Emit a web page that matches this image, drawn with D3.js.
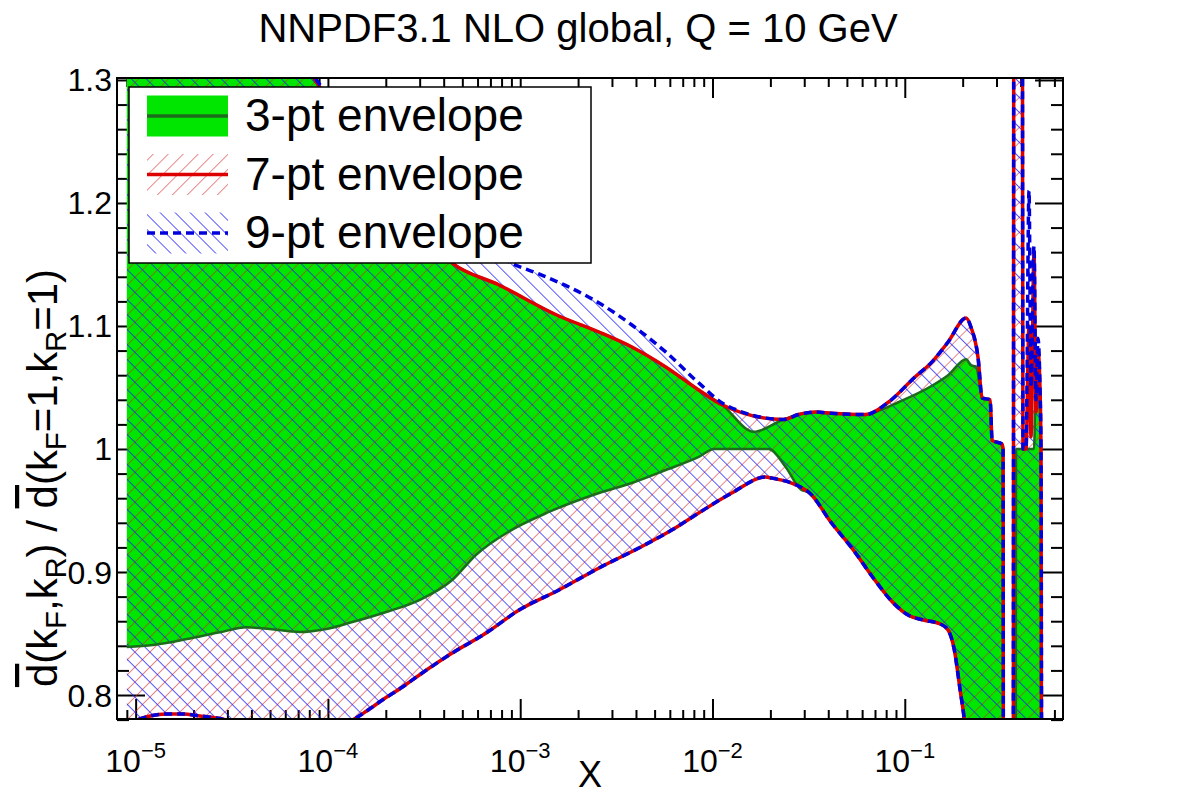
<!DOCTYPE html>
<html>
<head>
<meta charset="utf-8">
<script src="https://cdn.jsdelivr.net/npm/d3@7"></script>
<style>
  body { margin: 0; background: #fff; }
  svg text { font-family: "Liberation Sans", Arial, Helvetica, sans-serif; fill: #000; }
</style>
</head>
<body>
<svg id="chart"></svg>
<script>
// envelopes: [x, ratio]
// values outside 0.78..1.30 are only there so the bands run off the frame
const env3Upper = [
  [9.0e-6, 1.42], [1.5e-5, 1.40], [3.0e-5, 1.365], [5.5e-5, 1.33], [8.5e-5, 1.30],
  [1.29e-4, 1.2528], [2.09e-4, 1.2089], [2.99e-4, 1.178], [4.43e-4, 1.1512], [7.77e-4, 1.1333],
  [1.59e-3, 1.1081], [2.57e-3, 1.0951], [3.81e-3, 1.0829], [5.71e-3, 1.0667], [8.48e-3, 1.048],
  [1.12e-2, 1.036], [1.64e-2, 1.014], [2.34e-2, 1.024], [2.80e-2, 1.028], [3.43e-2, 1.030],
  [4.16e-2, 1.029], [6.24e-2, 1.028], [7.29e-2, 1.031], [9.25e-2, 1.038], [0.137, 1.051],
  [0.168, 1.060], [0.2085, 1.073], [0.221, 1.068], [0.235, 1.067], [0.2525, 1.041],
  [0.278, 1.040], [0.2845, 1.007], [0.3206, 1.004], [0.3245, 1.0], [0.326, 0.5],
  [0.377, 0.5], [0.3789, 1.0], [0.47, 1.0], [0.481, 1.067], [0.493, 1.06],
  [0.5109, 1.0], [0.513, 0.5]
];
const env3Lower = [
  [9.0e-6, 0.839], [1.23e-5, 0.8407], [1.85e-5, 0.8455], [2.74e-5, 0.851], [3.78e-5, 0.855],
  [4.98e-5, 0.8537], [7.12e-5, 0.8512], [9.83e-5, 0.8537], [1.34e-4, 0.8593], [2.01e-4, 0.8675],
  [2.99e-4, 0.8772], [4.43e-4, 0.8935], [5.9e-4, 0.9140], [8.76e-4, 0.9330], [1.41e-3, 0.9488],
  [2.57e-3, 0.9642], [3.81e-3, 0.9724], [5.71e-3, 0.9829], [8.48e-3, 0.9935], [1.02e-2, 1.0],
  [1.96e-2, 1.0], [2.40e-2, 0.9854], [2.90e-2, 0.9667], [3.16e-2, 0.965], [4.16e-2, 0.9398],
  [5.40e-2, 0.9179], [6.86e-2, 0.8951], [8.72e-2, 0.8748], [0.104, 0.865], [0.125, 0.861],
  [0.153, 0.8577], [0.168, 0.8528], [0.181, 0.8366], [0.194, 0.8041], [0.204, 0.78],
  [0.22, 0.72], [0.26, 0.65], [0.55, 0.65]
];
const env7Upper = [
  [9.0e-6, 1.45], [2.0e-5, 1.42], [4.0e-5, 1.37], [6.0e-5, 1.335], [8.6e-5, 1.30],
  [1.29e-4, 1.2528], [2.09e-4, 1.2089], [2.99e-4, 1.178], [4.43e-4, 1.1512], [7.77e-4, 1.1333],
  [1.59e-3, 1.1081], [2.57e-3, 1.0951], [3.81e-3, 1.0829], [5.71e-3, 1.0667], [8.48e-3, 1.048],
  [1.12e-2, 1.036], [2.34e-2, 1.024], [2.80e-2, 1.028], [3.43e-2, 1.030], [4.16e-2, 1.029],
  [6.24e-2, 1.028], [8.21e-2, 1.038], [0.113, 1.0585], [0.137, 1.070], [0.168, 1.087],
  [0.2085, 1.1065], [0.221, 1.099], [0.2406, 1.074], [0.2525, 1.0415], [0.278, 1.040],
  [0.2845, 1.007], [0.3206, 1.004], [0.3245, 1.0], [0.3265, 0.5], [0.3656, 0.5],
  [0.370, 1.6], [0.407, 1.6], [0.412, 1.0], [0.427, 1.0], [0.4426, 1.10],
  [0.4533, 1.01], [0.4699, 1.16], [0.4813, 1.03], [0.493, 1.08], [0.5048, 1.05],
  [0.5109, 1.0], [0.517, 0.5]
];
const env7Lower = [
  [9.0e-6, 0.776], [1.05e-5, 0.7805], [1.19e-5, 0.783], [1.45e-5, 0.7846], [1.76e-5, 0.7846],
  [2.16e-5, 0.783], [2.64e-5, 0.7813], [2.98e-5, 0.7797], [4.4e-5, 0.774], [7.1e-5, 0.771],
  [1.02e-4, 0.774], [1.34e-4, 0.7797], [1.59e-4, 0.787], [1.92e-4, 0.7959], [2.44e-4, 0.8065],
  [2.99e-4, 0.8163], [4.43e-4, 0.8341], [6.65e-4, 0.8504], [9.87e-4, 0.8691], [1.59e-3, 0.8854],
  [2.57e-3, 0.9033], [4.14e-3, 0.9195], [6.14e-3, 0.9341], [8.48e-3, 0.948], [1.26e-2, 0.9642],
  [1.89e-2, 0.9772], [2.03e-2, 0.9764], [3.16e-2, 0.965], [4.16e-2, 0.9398], [5.40e-2, 0.9179],
  [6.86e-2, 0.8951], [8.72e-2, 0.8748], [0.104, 0.865], [0.125, 0.861], [0.153, 0.8577],
  [0.168, 0.8528], [0.181, 0.8366], [0.194, 0.8041], [0.204, 0.78], [0.22, 0.72],
  [0.26, 0.65], [0.55, 0.65]
];
const env9Upper = [
  [9.0e-6, 1.50], [3.0e-5, 1.42], [6.0e-5, 1.345], [8.73e-5, 1.30], [1.46e-4, 1.261],
  [2.35e-4, 1.2268], [3.79e-4, 1.1967], [5.77e-4, 1.1724], [8.76e-4, 1.152], [1.25e-3, 1.1423],
  [1.79e-3, 1.1317], [2.57e-3, 1.1187], [3.81e-3, 1.1008], [5.71e-3, 1.0789], [8.48e-3, 1.0537],
  [1.17e-2, 1.0358], [2.34e-2, 1.024], [2.80e-2, 1.028], [3.43e-2, 1.030], [4.16e-2, 1.029],
  [6.24e-2, 1.028], [8.21e-2, 1.038], [0.113, 1.0585], [0.137, 1.070], [0.168, 1.087],
  [0.2085, 1.1065], [0.221, 1.099], [0.2406, 1.074], [0.2525, 1.0415], [0.278, 1.040],
  [0.2845, 1.007], [0.3206, 1.004], [0.3245, 1.0], [0.3265, 0.5], [0.3656, 0.5],
  [0.370, 1.6], [0.407, 1.6], [0.412, 1.0], [0.427, 1.0], [0.4426, 1.21],
  [0.4533, 1.05], [0.4699, 1.165], [0.4813, 1.04], [0.493, 1.09], [0.5048, 1.05],
  [0.5109, 1.0], [0.517, 0.5]
];
// the 9-pt lower edge sits on top of the 7-pt one everywhere
const env9Lower = env7Lower;

const xMajorTicks = [1e-5, 1e-4, 1e-3, 1e-2, 1e-1];
const xTickExponents = ["\u22125", "\u22124", "\u22123", "\u22122", "\u22121"];
const yMajorTicks = [0.8, 0.9, 1.0, 1.1, 1.2, 1.3];
const yTickLabels = ["0.8", "0.9", "1", "1.1", "1.2", "1.3"];
const legendLabels = ["3-pt envelope", "7-pt envelope", "9-pt envelope"];

const W = 1182, H = 800;
const plot = {left: 117, right: 1063, top: 78, bottom: 719};

const svg = d3.select("#chart").attr("width", W).attr("height", H);

const x = d3.scaleLog().domain([8e-6, 0.665]).range([plot.left, plot.right]);
const y = d3.scaleLinear().domain([0.7805, 1.3016]).range([plot.bottom, plot.top]);

const defs = svg.append("defs");
defs.append("clipPath").attr("id", "plotClip")
  .append("rect")
  .attr("x", plot.left).attr("y", plot.top)
  .attr("width", plot.right - plot.left).attr("height", plot.bottom - plot.top);

function makeHatch(id, angle, color, opacity, width) {
  const p = defs.append("pattern").attr("id", id)
    .attr("patternUnits", "userSpaceOnUse")
    .attr("width", 10.6).attr("height", 10.6)
    .attr("patternTransform", `rotate(${angle})`);
  p.append("line")
    .attr("x1", 5.3).attr("x2", 5.3).attr("y1", -1).attr("y2", 11.6)
    .attr("stroke", color).attr("stroke-width", width).attr("stroke-opacity", opacity);
}
makeHatch("hatch7", 45, "#d42020", 0.55, 1);
makeHatch("hatch9", -45, "#1a1aff", 0.9, 0.8);

// minor ticks
const xMinorTicks = [];
for (let e = -6; e <= -1; e++) {
  for (let k = 2; k <= 9; k++) {
    const v = k * Math.pow(10, e);
    if (v > 8.05e-6 && v < 0.665) xMinorTicks.push(v);
  }
}
const yMinorTicks = d3.range(0, 27).map(i => +(0.78 + 0.02 * i).toFixed(2))
  .filter(v => Math.abs(v * 10 - Math.round(v * 10)) > 1e-6);

function drawTicks(axis, values, size, tx, ty) {
  svg.append("g").attr("transform", `translate(${tx},${ty})`)
    .call(axis.tickValues(values).tickSize(size).tickSizeOuter(0).tickFormat(""))
    .call(g => g.select(".domain").remove())
    .call(g => g.selectAll("line").attr("stroke", "#000").attr("stroke-width", 2));
}
drawTicks(d3.axisBottom(x), xMajorTicks, -20, 0, plot.bottom);
drawTicks(d3.axisBottom(x), xMinorTicks, -9, 0, plot.bottom);
drawTicks(d3.axisTop(x), xMajorTicks, -20, 0, plot.top);
drawTicks(d3.axisTop(x), xMinorTicks, -9, 0, plot.top);
drawTicks(d3.axisLeft(y), yMajorTicks, -28, plot.left, 0);
drawTicks(d3.axisLeft(y), yMinorTicks, -12, plot.left, 0);
drawTicks(d3.axisRight(y), yMajorTicks, -28, plot.right, 0);
drawTicks(d3.axisRight(y), yMinorTicks, -12, plot.right, 0);

// bands and lines
const line = d3.line().x(d => x(d[0])).y(d => y(d[1])).curve(d3.curveMonotoneX);
function band(upper, lower) {
  return line(upper) + line(lower.slice().reverse()).replace(/^M/, "L") + "Z";
}

const body = svg.append("g").attr("clip-path", "url(#plotClip)");
body.append("path").attr("d", band(env3Upper, env3Lower)).attr("fill", "#00e600");
body.append("path").attr("d", band(env7Upper, env7Lower)).attr("fill", "url(#hatch7)");
body.append("path").attr("d", band(env9Upper, env9Lower)).attr("fill", "url(#hatch9)");

[env3Upper, env3Lower].forEach(d => {
  body.append("path").attr("d", line(d)).attr("fill", "none")
    .attr("stroke", "#1d6b1d").attr("stroke-width", 2.5);
});
[env7Upper, env7Lower].forEach(d => {
  body.append("path").attr("d", line(d)).attr("fill", "none")
    .attr("stroke", "#dd0000").attr("stroke-width", 3.5);
});
[env9Upper, env9Lower].forEach(d => {
  body.append("path").attr("d", line(d)).attr("fill", "none")
    .attr("stroke", "#0000dd").attr("stroke-width", 3.5).attr("stroke-dasharray", "8,5");
});

// frame
svg.append("rect")
  .attr("x", plot.left).attr("y", plot.top)
  .attr("width", plot.right - plot.left).attr("height", plot.bottom - plot.top)
  .attr("fill", "none").attr("stroke", "#000").attr("stroke-width", 2);

// tick labels
svg.append("g").selectAll("text").data(yMajorTicks).enter().append("text")
  .attr("x", 112).attr("y", d => y(d) + 11.5)
  .attr("text-anchor", "end").attr("font-size", 32)
  .text((d, i) => yTickLabels[i]);

const xl = svg.append("g").selectAll("text").data(xMajorTicks).enter().append("text")
  .attr("x", d => x(d)).attr("y", 772)
  .attr("text-anchor", "middle").attr("font-size", 32);
xl.append("tspan").text("10");
xl.append("tspan").attr("font-size", 22).attr("dy", -14).text((d, i) => xTickExponents[i]);

// axis titles
svg.append("text").attr("x", 590).attr("y", 787).attr("text-anchor", "middle")
  .attr("font-size", 36).text("X");

svg.append("text").attr("x", 578).attr("y", 42).attr("text-anchor", "middle")
  .attr("font-size", 40).text("NNPDF3.1 NLO global, Q = 10 GeV");

const ylab = svg.append("text")
  .attr("transform", "translate(57,478) rotate(-90)")
  .attr("text-anchor", "middle").attr("font-size", 42);
function sub(t) { ylab.append("tspan").attr("font-size", 29).attr("dy", 9).text(t); }
function back(t) { ylab.append("tspan").attr("dy", -9).text(t); }
ylab.append("tspan").style("text-decoration", "overline").text("d");
ylab.append("tspan").text("(k");
sub("F"); back(",k"); sub("R"); back(") / ");
ylab.append("tspan").style("text-decoration", "overline").text("d");
ylab.append("tspan").text("(k");
sub("F"); back("=1,k"); sub("R"); back("=1)");

// legend
const legend = svg.append("g");
legend.append("rect").attr("x", 129).attr("y", 87).attr("width", 462).attr("height", 176)
  .attr("fill", "#fff").attr("stroke", "#000").attr("stroke-width", 1.5);
const swatchFill = ["#00e600", "url(#hatch7)", "url(#hatch9)"];
const swatchLine = ["#1d6b1d", "#dd0000", "#0000dd"];
legendLabels.forEach((label, i) => {
  const cy = 116 + i * 58.5;
  legend.append("rect").attr("x", 147).attr("y", cy - 20.5).attr("width", 81).attr("height", 41)
    .attr("fill", swatchFill[i]);
  legend.append("line").attr("x1", 147).attr("x2", 228).attr("y1", cy).attr("y2", cy)
    .attr("stroke", swatchLine[i]).attr("stroke-width", 3.5)
    .attr("stroke-dasharray", i === 2 ? "8,5" : null);
  legend.append("text").attr("x", 245).attr("y", cy + 15).attr("font-size", 46).text(label);
});
</script>
</body>
</html>
